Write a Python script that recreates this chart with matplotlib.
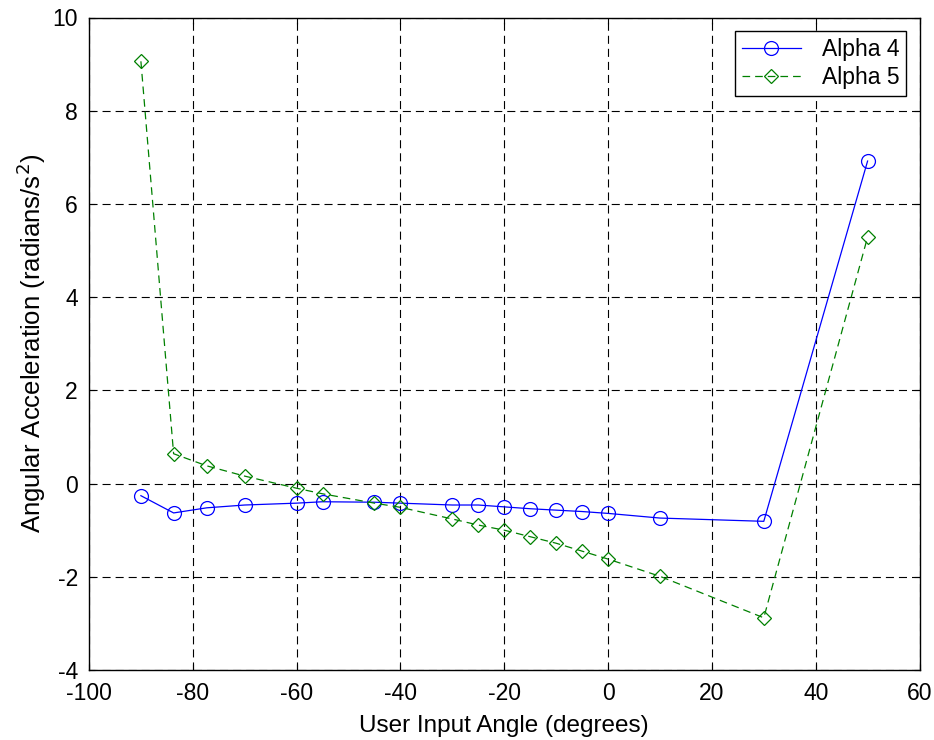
import numpy as np
import matplotlib
matplotlib.use("Agg")
import matplotlib.pyplot as plt

# input angle (degrees) and angular acceleration results
angle = [-90, -83.7, -77.3, -70, -60, -55, -45, -40, -30, -25, -20, -15, -10, -5, 0, 10, 30, 50]
alpha4 = [-0.26, -0.63, -0.52, -0.46, -0.42, -0.39, -0.40, -0.42, -0.46, -0.46,
          -0.50, -0.54, -0.57, -0.60, -0.64, -0.74, -0.81, 6.92]
alpha5 = [9.06, 0.64, 0.38, 0.16, -0.10, -0.22, -0.42, -0.51, -0.76, -0.89,
          -1.00, -1.14, -1.28, -1.45, -1.62, -1.99, -2.88, 5.29]

plt.rcParams['font.family'] = ['Liberation Sans', 'DejaVu Sans']
plt.rcParams['lines.scale_dashes'] = False
plt.rcParams['axes.unicode_minus'] = False

fig = plt.figure(figsize=(9.34, 7.40), dpi=100)
ax = fig.add_axes([89/934, 70/740, 830.5/934, 652.5/740])

ax.plot(angle, alpha4, color='#0000ff', lw=0.9, marker='o', ms=10,
        mfc='none', mec='#0000ff', mew=0.9, label='Alpha 4')
ax.plot(angle, alpha5, color='#008000', lw=0.9, ls=(0, (5.5, 3.6)), marker='D', ms=7,
        mfc='none', mec='#008000', mew=0.9, label='Alpha 5')

ax.set_xlim(-100, 60)
ax.set_ylim(-4, 10)
ax.set_xticks(np.arange(-100, 61, 20))
ax.set_yticks(np.arange(-4, 11, 2))
ax.grid(True, color='k', lw=0.8, ls=(0, (5.8, 3.6)))
ax.tick_params(direction='in', length=4, labelsize=16.5, top=True, right=True)
ax.tick_params(axis='x', pad=9)
ax.tick_params(axis='y', pad=8)
for s in ax.spines.values():
    s.set_linewidth(1.0)

ax.set_xlabel('User Input Angle (degrees)', fontsize=17.5, labelpad=7)
ax.set_ylabel('Angular Acceleration (radians/s$^2$)', fontsize=18.5, labelpad=3)

leg = ax.legend(loc='upper right', fontsize=16.5, fancybox=False, framealpha=1,
                edgecolor='k', borderaxespad=0.58, handlelength=2.6,
                labelspacing=0.25, borderpad=0.3, handletextpad=0.9)
leg.get_frame().set_linewidth(1.0)

fig.savefig('out.png', dpi=100)
